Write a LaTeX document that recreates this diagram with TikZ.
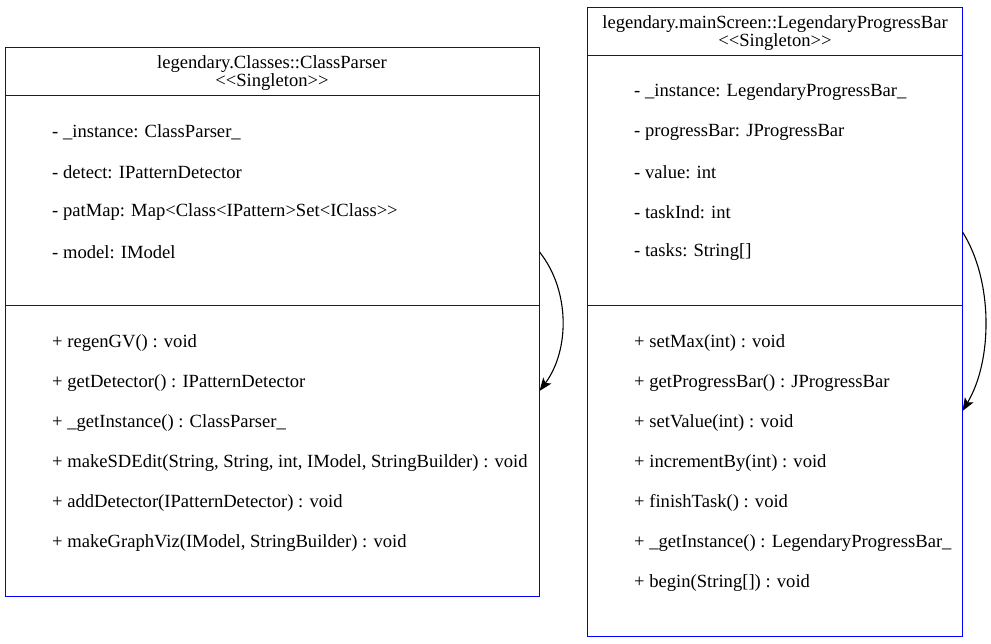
\documentclass[tikz,border=0pt]{standalone}
\usepackage{fontspec}
\setmainfont{Liberation Serif}
\usetikzlibrary{arrows.meta}
\tikzset{
  classbox/.style={draw=blue,line width=1.2pt},
  member/.style={anchor=west,inner sep=0pt,font=\fontsize{18.6}{18}\selectfont},
  title/.style={align=center,inner sep=0pt,font=\fontsize{18.6}{18}\selectfont},
  selfloop/.style={-{Stealth[length=13pt,width=10pt,inset=3pt]},line width=1.1pt}
}
\begin{document}
\begin{tikzpicture}[x=1pt,y=-1pt]
\useasboundingbox (0,0) rectangle (991,643);
% ClassParser
\draw[classbox] (5.5,47.5) rectangle (539.5,596.5);
\draw[classbox] (5.5,95.5)--(539.5,95.5);
\draw[classbox] (5.5,305.5)--(539.5,305.5);
\node[title] (cpTitle) at (272,73) {legendary.Classes::ClassParser\\<{}<Singleton>{}>};
\node[member] (cpA1) at (52,132) {- \_instance: ClassParser\_};
\node[member] (cpA2) at (52,172) {- detect: IPatternDetector};
\node[member] (cpA3) at (52,212) {- patMap: Map<Class<IPattern>Set<IClass>{}>};
\node[member] (cpA4) at (52,252) {- model: IModel};
\node[member] (cpM1) at (52,343) {+ regenGV() : void};
\node[member] (cpM2) at (52,383) {+ getDetector() : IPatternDetector};
\node[member] (cpM3) at (52,423) {+ \_getInstance() : ClassParser\_};
\node[member] (cpM4) at (52,463) {+ makeSDEdit(String, String, int, IModel, StringBuilder) : void};
\node[member] (cpM5) at (52,503) {+ addDetector(IPatternDetector) : void};
\node[member] (cpM6) at (52,543) {+ makeGraphViz(IModel, StringBuilder) : void};
\coordinate (cpOut) at (539.5,252);
\coordinate (cpIn) at (539.5,391);
\draw[selfloop] (cpOut) .. controls (570,290) and (570,350) .. (cpIn);
% LegendaryProgressBar
\draw[classbox] (587.5,7.5) rectangle (962.5,636.5);
\draw[classbox] (587.5,55.5)--(962.5,55.5);
\draw[classbox] (587.5,305.5)--(962.5,305.5);
\node[title] (pbTitle) at (775,33) {legendary.mainScreen::LegendaryProgressBar\\<{}<Singleton>{}>};
\node[member] (pbA1) at (634,92) {- \_instance: LegendaryProgressBar\_};
\node[member] (pbA2) at (634,132) {- progressBar: JProgressBar};
\node[member] (pbA3) at (634,172) {- value: int};
\node[member] (pbA4) at (634,212) {- taskInd: int};
\node[member] (pbA5) at (634,252) {- tasks: String[]};
\node[member] (pbM1) at (634,343) {+ setMax(int) : void};
\node[member] (pbM2) at (634,383) {+ getProgressBar() : JProgressBar};
\node[member] (pbM3) at (634,423) {+ setValue(int) : void};
\node[member] (pbM4) at (634,463) {+ incrementBy(int) : void};
\node[member] (pbM5) at (634,503) {+ finishTask() : void};
\node[member] (pbM6) at (634,543) {+ \_getInstance() : LegendaryProgressBar\_};
\node[member] (pbM7) at (634,583) {+ begin(String[]) : void};
\coordinate (pbOut) at (962.5,232);
\coordinate (pbIn) at (962.5,411);
\draw[selfloop] (pbOut) .. controls (993,280) and (993,360) .. (pbIn);
\end{tikzpicture}
\end{document}
